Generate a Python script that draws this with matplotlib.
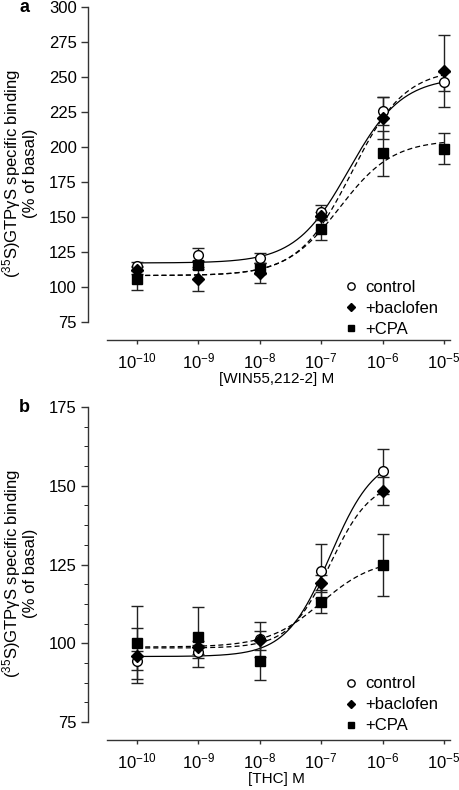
import numpy as np
import matplotlib
matplotlib.use("Agg")
import matplotlib.pyplot as plt

plt.rcParams['font.family'] = ['Liberation Sans', 'DejaVu Sans']
plt.rcParams['mathtext.fontset'] = 'custom'
plt.rcParams['mathtext.rm'] = 'Liberation Sans'
plt.rcParams['mathtext.it'] = 'Liberation Sans:italic'

# log10 concentrations
dose_a = [-10, -9, -8, -7, -6, -5]
dose_b = [-10, -9, -8, -7, -6]
tick_pos = [-10, -9, -8, -7, -6, -5]
tick_labels = ["10$^{-10}$", "10$^{-9}$", "10$^{-8}$", "10$^{-7}$", "10$^{-6}$", "10$^{-5}$"]
labels = ["control", "+baclofen", "+CPA"]

# panel a: WIN55,212-2
win_control = [114.5, 122.9, 120.5, 153.5, 226.0, 246.7]
win_control_err = [3.0, 4.5, 3.5, 5.2, 10.0, 7.0]
win_baclofen = [112.0, 105.7, 109.8, 150.5, 220.5, 254.3]
win_baclofen_err = [3.0, 8.6, 7.2, 3.0, 15.0, 26.0]
win_cpa = [105.8, 115.5, 113.0, 141.5, 195.5, 198.8]
win_cpa_err = [8.0, 3.0, 4.0, 8.4, 16.0, 11.0]
# fitted curves: bottom, top, logEC50, hill
win_fit = [[117, 250, -6.55, 1.0], [108, 256, -6.5, 1.0], [108, 205, -6.7, 1.0]]

# panel b: THC
thc_control = [94.5, 97.3, 101.2, 123.0, 154.6]
thc_control_err = [3.0, 2.0, 5.5, 8.5, 7.1]
thc_baclofen = [96.0, 98.7, 101.0, 119.0, 148.3]
thc_baclofen_err = [8.7, 2.0, 3.0, 2.6, 4.4]
thc_cpa = [100.2, 102.1, 94.4, 113.2, 124.8]
thc_cpa_err = [11.5, 9.5, 6.2, 3.7, 9.8]
thc_fit = [[95.8, 160, -6.85, 1.2], [98.5, 152, -6.85, 1.3], [98.8, 127, -7.0, 1.0]]

markers = [dict(marker='o', mfc='white', mec='black', ms=7, mew=1.0),
           dict(marker='D', mfc='black', mec='black', ms=6),
           dict(marker='s', mfc='black', mec='black', ms=6.5)]
styles = ['-', (0, (4, 2.5)), (0, (4, 2.5))]


def logistic(x, p):
    bottom, top, ec50, h = p
    return bottom + (top - bottom) / (1 + 10 ** ((ec50 - x) * h))


def panel(ax, doses, series, errs, fits, xmax_curve, ylim, yticks, xlabel, letter,
          leg_y, minor=None):
    xs = np.linspace(-10, xmax_curve, 300)
    for p, ls in zip(fits, styles):
        ax.plot(xs, logistic(xs, p), color='black', lw=0.9, ls=ls, zorder=2)
    for y, e in zip(series, errs):
        ax.errorbar(doses, y, yerr=e, fmt='none', ecolor='#222222', elinewidth=1.0,
                    capsize=4, capthick=1.0, zorder=3)
    for y, m, lab in zip(series, markers, labels):
        ax.plot(doses, y, ls='none', label=lab, zorder=4, **m)

    ax.set_xlim(-10.8, -4.9)
    ax.set_ylim(*ylim)
    ax.spines['top'].set_visible(False)
    ax.spines['right'].set_visible(False)
    ax.spines['left'].set_bounds(yticks[0], yticks[-1])
    ax.spines['bottom'].set_bounds(-10.49, -4.9)
    for s in ['left', 'bottom']:
        ax.spines[s].set_color('#333333')
        ax.spines[s].set_linewidth(1.0)
    ax.set_yticks(yticks)
    if minor is not None:
        ax.set_yticks(minor, minor=True)
    ax.set_xticks(tick_pos)
    ax.set_xticklabels(tick_labels)
    ax.tick_params(axis='both', labelsize=12, color='#333333', width=1.0)
    ax.tick_params(axis='y', length=5, pad=3)
    ax.tick_params(axis='y', which='minor', length=3)
    ax.tick_params(axis='x', length=3, pad=5)
    ax.set_xlabel(xlabel, fontsize=11)
    ax.xaxis.set_label_coords(0.52, -0.095)
    ax.set_ylabel("($^{35}$S)GTP\u03b3S specific binding\n(% of basal)", fontsize=12,
                  labelpad=8, linespacing=1.0)
    ax.legend(loc='upper left', bbox_to_anchor=(0.69, leg_y), frameon=False, fontsize=12,
              handlelength=0.8, handletextpad=0.45, labelspacing=0.36, borderaxespad=0,
              markerscale=0.75)
    ax.text(-0.19, 1.0, letter, transform=ax.transAxes, fontsize=13, fontweight='bold',
            va='center', ha='left')


fig = plt.figure(figsize=(4.6, 7.9), dpi=100)
ax_a = fig.add_axes([0.1913, 0.5696, 0.787, 0.4215])
ax_b = fig.add_axes([0.1913, 0.0633, 0.787, 0.4215])

panel(ax_a, dose_a, [win_control, win_baclofen, win_cpa],
      [win_control_err, win_baclofen_err, win_cpa_err], win_fit, -5,
      (61.9, 300), [75, 100, 125, 150, 175, 200, 225, 250, 275, 300],
      "[WIN55,212-2] M", "a", 0.20)
panel(ax_b, dose_b, [thc_control, thc_baclofen, thc_cpa],
      [thc_control_err, thc_baclofen_err, thc_cpa_err], thc_fit, -6,
      (69.3, 175), [75, 100, 125, 150, 175],
      "[THC] M", "b", 0.211, minor=np.arange(75, 175.1, 6.25))

fig.savefig("out.png", dpi=100)
